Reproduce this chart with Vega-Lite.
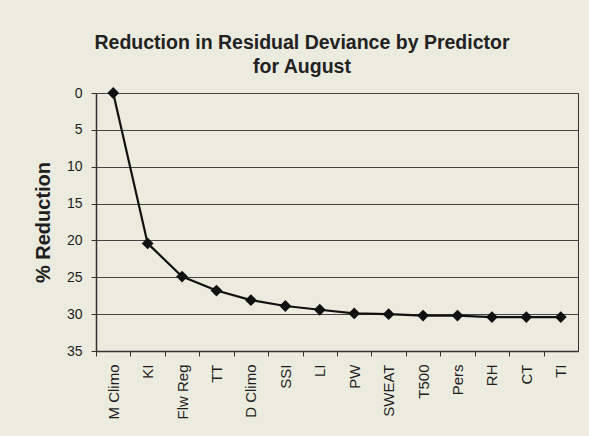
{
  "$schema": "https://vega.github.io/schema/vega-lite/v6.json",
  "width": 482,
  "height": 258,
  "autosize": {"type": "none"},
  "padding": {"left": 96, "top": 93, "right": 11, "bottom": 85},
  "background": "#ecebdf",
  "config": {
    "font": "Liberation Sans",
    "view": {"stroke": "#333333", "strokeWidth": 1},
    "axis": {"labelFont": "Liberation Sans", "titleFont": "Liberation Sans", "labelColor": "#1e1e1e", "titleColor": "#1e1e1e", "domainColor": "#333333", "tickColor": "#333333"}
  },
  "title": {
    "text": ["Reduction in Residual Deviance by Predictor", "for August"],
    "fontSize": 19.5,
    "fontWeight": "bold",
    "color": "#222222",
    "lineHeight": 24,
    "anchor": "middle",
    "dx": -35,
    "offset": 9
  },
  "data": {
    "values": [
      {"predictor": "M Climo", "reduction": 0},
      {"predictor": "KI", "reduction": 20.4},
      {"predictor": "Flw Reg", "reduction": 24.9},
      {"predictor": "TT", "reduction": 26.8},
      {"predictor": "D Climo", "reduction": 28.1},
      {"predictor": "SSI", "reduction": 28.9},
      {"predictor": "LI", "reduction": 29.4},
      {"predictor": "PW", "reduction": 29.9},
      {"predictor": "SWEAT", "reduction": 30.0},
      {"predictor": "T500", "reduction": 30.2},
      {"predictor": "Pers", "reduction": 30.2},
      {"predictor": "RH", "reduction": 30.4},
      {"predictor": "CT", "reduction": 30.4},
      {"predictor": "TI", "reduction": 30.4}
    ]
  },
  "encoding": {
    "x": {
      "field": "predictor",
      "type": "nominal",
      "sort": null,
      "bandPosition": 0.5,
      "scale": {"type": "band", "paddingInner": 0, "paddingOuter": 0},
      "axis": {
        "title": null,
        "labelAngle": -90,
        "labelFontSize": 15,
        "labelPadding": 8,
        "tickSize": 5,
        "tickOffset": -17.2,
        "labelOffset": 17.2,
        "grid": false,
        "domainWidth": 1.5
      }
    },
    "y": {
      "field": "reduction",
      "type": "quantitative",
      "scale": {"domain": [0, 35], "reverse": true, "nice": false},
      "axis": {
        "title": "% Reduction",
        "titleFontSize": 20,
        "titleFontWeight": "bold",
        "titlePadding": 13,
        "values": [0, 5, 10, 15, 20, 25, 30, 35],
        "labelFontSize": 14,
        "labelPadding": 9,
        "tickSize": 5,
        "grid": true,
        "gridColor": "#444444",
        "gridOpacity": 1,
        "gridWidth": 1,
        "domainWidth": 1.5
      }
    }
  },
  "layer": [
    {"mark": {"type": "line", "color": "#111111", "strokeWidth": 2.2}},
    {"mark": {"type": "point", "shape": "diamond", "filled": true, "color": "#111111", "opacity": 1, "size": 140}}
  ]
}
